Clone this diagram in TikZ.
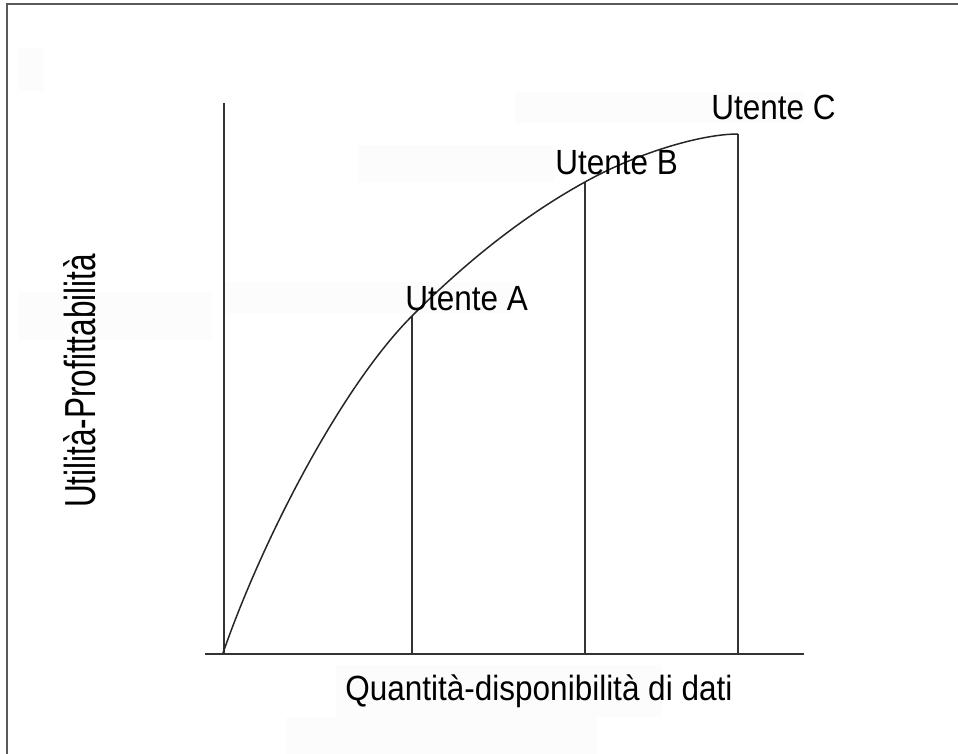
\documentclass[tikz,border=0pt]{standalone}
\usepackage{fontspec}
\setmainfont{Liberation Sans}[FakeStretch=0.9]
\usetikzlibrary{positioning}

\begin{document}
\begin{tikzpicture}[
   x=0.5pt,y=-0.5pt,
   font=\fontsize{17.5}{21}\selectfont,
   frame/.style={line width=1pt,draw=black!65},
   axis/.style={line width=1pt,draw=black!80},
   level/.style={line width=0.9pt,draw=black!80},
   curve/.style={line width=0.75pt,draw=black!85},
   ghost/.style={fill=black!1,draw=none},
   every node/.style={inner sep=0pt}]
\useasboundingbox (0,0) rectangle (958,754);
% faint patches
\fill[ghost] (18,48) rectangle (44,91);
\fill[ghost] (515,92) rectangle (803,123);
\fill[ghost] (358,145) rectangle (555,182);
\fill[ghost] (18,292) rectangle (212,340);
\fill[ghost] (225,282) rectangle (513,313);
\fill[ghost] (336,665) rectangle (662,717);
\fill[ghost] (286,717) rectangle (597,754);
% frame
\draw[frame] (7,754) -- (7,4) -- (958,4);
% points
\coordinate (O) at (223,653);
\coordinate (A) at (412,316);
\coordinate (B) at (585,182);
\coordinate (C) at (738,134);
\coordinate (Ytop) at (224,103);
\coordinate (Xl) at (205,654);
\coordinate (Xr) at (804,654);
% axes
\draw[axis] (Ytop) -- (Ytop |- Xl);
\draw[axis] (Xl) -- (Xr);
\draw[level] (A) -- (A |- Xl);
\draw[level] (B) -- (B |- Xl);
\draw[level] (C) -- (C |- Xl);
\draw[curve] (O) .. controls (263,538) and (342,386) .. (A)
   .. controls (470,258) and (527,214) .. (B)
   .. controls (635,154) and (700,134) .. (C);
% labels
\node[anchor=base west] (uA) at (405,310) {Utente A};
\node[anchor=base west] (uB) at (555,175) {Utente B};
\node[anchor=base west] (uC) at (711,120) {Utente C};
\node[anchor=base west] (xlab) at (345,700) {Quantità-disponibilità di dati};
\node[rotate=90,anchor=base] (ylab) at (95,381) {\scalebox{1}[1.24]{Utilità-Profittabilità}};
\end{tikzpicture}
\end{document}
